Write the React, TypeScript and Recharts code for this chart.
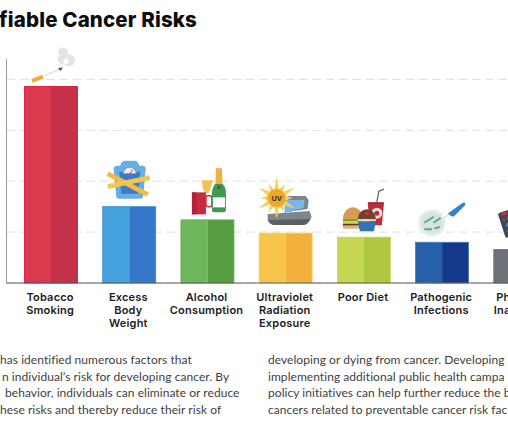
import React from 'react';
import { BarChart, Bar, XAxis, YAxis, CartesianGrid } from 'recharts';

const categories = [
  'Tobacco Smoking',
  'Excess Body Weight',
  'Alcohol Consumption',
  'Ultraviolet Radiation Exposure',
  'Poor Diet',
  'Pathogenic Infections',
  'Physical Inactivity',
];
const tickLines = [
  ['Tobacco', 'Smoking'],
  ['Excess', 'Body', 'Weight'],
  ['Alcohol', 'Consumption'],
  ['Ultraviolet', 'Radiation', 'Exposure'],
  ['Poor Diet'],
  ['Pathogenic', 'Infections'],
  ['Physical', 'Inactivity'],
];
const risks = [19.3, 7.5, 6.2, 4.9, 4.5, 4.0, 3.3];
const lightColors = ['#db3a4e', '#45a1de', '#6fb75b', '#f7c54b', '#c4d652', '#2660a8', '#6d7278'];
const darkColors = ['#c33249', '#3578c9', '#569c40', '#f2b13d', '#afc742', '#163a8b', '#5a5e63'];
const edgeColors = ['#e3062f', '#3a8fd8', '#66ae52', '#f9d26a', '#c4d652', '#4a78b5', '#6d7278'];
const gridTicks = [0, 5, 10, 15, 20];

const titleText = 'fiable Cancer Risks';
const leftColumn = [
  'has identified numerous factors that',
  'n individual\u2019s risk for developing cancer. By',
  'behavior, individuals can eliminate or reduce',
  'hese risks and thereby reduce their risk of',
];
const leftOffsets = [0, 2, 5, 0];
const rightColumn = [
  'developing or dying from cancer. Developing',
  'implementing additional public health campa',
  'policy initiatives can help further reduce the b',
  'cancers related to preventable cancer risk fac',
];

const chartData = categories.map((name, i) => ({ name, risk: risks[i] }));

// little pictures sitting on the bars, drawn from the bar's top centre
const Smoke = () => (
  <g>
    <rect x={-19.5} y={-10} width={12} height={4} fill="#f5a93a" transform="rotate(-21 -13 -8)" />
    <line x1={-6} y1={-11} x2={8} y2={-17} stroke="#e2e3e5" strokeWidth={1.5} />
    <path d="M7 -18.5 L12 -19 L9.5 -15.5 Z" fill="#4a4d52" />
    <g fill="#e3e4e6">
      <circle cx={12} cy={-34} r={5} />
      <circle cx={11} cy={-27} r={4.5} />
      <circle cx={18} cy={-26} r={6} />
      <circle cx={13} cy={-31} r={4} />
    </g>
    <circle cx={15} cy={-25} r={2.5} fill="#fff" />
  </g>
);

const Scale = () => (
  <g>
    <path d="M-15.5 -38 Q-15.5 -41 -12 -41 L-9 -41 Q-8 -46 -4 -46 L5 -46 Q9 -46 10 -41 L13 -41 Q16.5 -41 16.5 -38 L14 -11 Q14 -8 11 -8 L-10 -8 Q-13 -8 -13 -11 Z" fill="#69aee3" />
    <path d="M-10 -35 L11 -35 L9 -13 L-8 -13 Z" fill="#3b7cc9" />
    <path d="M-6 -33 A6.5 6.5 0 0 1 7 -33 Z" fill="#e9edf1" stroke="#7c8894" strokeWidth={0.8} />
    <line x1={0.5} y1={-33} x2={3.5} y2={-37} stroke="#d8323c" strokeWidth={1} />
    <line x1={-21.5} y1={-33} x2={18.5} y2={-12} stroke="#f2bb43" strokeWidth={5} />
    <line x1={-21.5} y1={-20} x2={20.5} y2={-29} stroke="#f6c650" strokeWidth={5} />
  </g>
);

const Drinks = () => (
  <g>
    <path d="M-5.5 -39.5 L5.5 -39.5 L3 -31 L1 -26.5 L-2 -26.5 L-4.5 -31 Z" fill="#eec458" />
    <rect x={-1.5} y={-24} width={6} height={11} rx={2} fill="#fff" stroke="#d8273f" strokeWidth={1.5} />
    <rect x={-15.5} y={-27.5} width={14} height={22} fill="#c62a3f" />
    <rect x={-15.5} y={-27.5} width={4.5} height={22} fill="#b32237" />
    <path d="M8.5 -51.5 L14.5 -51.5 L15 -36 L8 -36 Z" fill="#eeb23f" />
    <path d="M4.5 -27 Q5 -33 8 -36 L15 -36 Q18.5 -33 18.5 -27 L18.5 -10 Q18.5 -7.5 16 -7.5 L7 -7.5 Q4.5 -7.5 4.5 -10 Z" fill="#3f9a4d" />
    <rect x={5.5} y={-22.5} width={12} height={10} fill="#fff" />
    <circle cx={11.5} cy={-32.5} r={1.7} fill="#54585c" />
  </g>
);

const Tanning = () => {
  const rays = [0, 30, 60, 90, 120, 150, 180, 210, 240, 270, 300, 330];
  return (
    <g>
      <path d="M2 -37 L20 -37 L23 -33 L22 -24 L2 -21 Z" fill="#80858a" />
      <path d="M-1 -33 L19 -33 L18 -25 L-1 -20 Z" fill="#78b8e6" />
      <path d="M-18 -19 L24 -22 L26 -16 L23 -11 Q21 -8 17 -8 L-12 -8 Q-17 -9 -18 -13 Z" fill="#80858a" />
      <path d="M-17 -13 L25 -14 L23 -11 Q21 -8 17 -8 L-12 -8 Q-16 -9 -17 -13 Z" fill="#5c6065" />
      {rays.map((deg) => (
        <path
          key={deg}
          d={deg % 60 === 0 ? 'M-2.5 -8 L0 -21 L2.5 -8 Z' : 'M-2.5 -8 L0 -16 L2.5 -8 Z'}
          fill="#f8cf62"
          transform={`translate(-9 -35) rotate(${deg})`}
        />
      ))}
      <circle cx={-9} cy={-35} r={9} fill="#eda72b" />
      <text x={-9} y={-32} textAnchor="middle" fontSize={8} fontWeight={700} fontFamily="Roboto" fill="#3c3a36">
        UV
      </text>
    </g>
  );
};

const Food = () => (
  <g>
    <path d="M13 -35 L15 -46 L20 -48" fill="none" stroke="#5a5e63" strokeWidth={1.2} />
    <path d="M4 -33 L20 -33 L18 -12 L6 -12 Z" fill="#c12a38" />
    <rect x={4} y={-35} width={16} height={2.5} fill="#a82231" />
    <circle cx={13} cy={-24} r={5.5} fill="#ece3e4" />
    <circle cx={13} cy={-24} r={2.5} fill="#c12a38" />
    <path d="M-21 -18 A10 12 0 0 1 -1 -18 Z" fill="#d69a55" />
    <rect x={-21} y={-18} width={20} height={2} fill="#5f9e3c" />
    <rect x={-21} y={-16} width={20} height={2.5} fill="#f0c53d" />
    <rect x={-21} y={-13.5} width={20} height={2} fill="#5b3a2a" />
    <rect x={-21} y={-11.5} width={20} height={3} rx={1} fill="#dcb47c" />
    <path d="M-6 -18 A9 10 0 0 1 12 -18 Z" fill="#6b4330" />
    <circle cx={3} cy={-24} r={2} fill="#c8303f" />
    <rect x={-6} y={-18} width={18} height={2} fill="#f4dc9b" />
    <path d="M-6 -16 L12 -16 L10 -6 L-4 -6 Z" fill="#2f73bd" />
  </g>
);

const Petri = () => (
  <g>
    <line x1={2} y1={-24} x2={8} y2={-29} stroke="#d8dade" strokeWidth={1.5} />
    <path d="M6 -29 L20 -39 Q24 -41 23 -37 L12 -26 Q9 -25 6 -29 Z" fill="#2f84cf" />
    <circle cx={-10} cy={-19.5} r={13.5} fill="#e6eaee" />
    <circle cx={-10} cy={-19.5} r={10.5} fill="#d2e4ea" />
    <g stroke="#67ab57" strokeWidth={2} strokeLinecap="round">
      <line x1={-17} y1={-20} x2={-9} y2={-25} />
      <line x1={-8} y1={-20} x2={-2} y2={-24} />
      <line x1={-17} y1={-13} x2={-11} y2={-13} />
      <line x1={-7} y1={-14} x2={-3} y2={-15} />
    </g>
  </g>
);

const Remote = () => (
  <g transform="translate(-22.6 -36) rotate(-18)">
    <rect x={2} y={24} width={30} height={5} fill="#d7dadd" />
    <rect x={0} y={0} width={30} height={26} rx={2} fill="#44484d" />
    <rect x={3} y={1} width={6} height={2.5} fill="#d8323c" />
    <circle cx={6} cy={14} r={2} fill="#2f84cf" />
    <g fill="#6d7278">
      <circle cx={4} cy={8} r={1} />
      <circle cx={8} cy={8} r={1} />
      <circle cx={4} cy={20} r={1} />
      <circle cx={8} cy={20} r={1} />
    </g>
  </g>
);

const icons = [Smoke, Scale, Drinks, Tanning, Food, Petri, Remote];

// one bar in two halves, with its picture on top
const TwoToneBar = (props: any) => {
  const { x, y, width, height, index } = props;
  const Icon = icons[index];
  return (
    <g>
      <rect x={x} y={y} width={width / 2} height={height} fill={lightColors[index]} />
      <rect x={x + width / 2} y={y} width={width / 2} height={height} fill={darkColors[index]} />
      <rect x={x} y={y} width={width} height={height} fill="none" stroke={edgeColors[index]} strokeWidth={0.8} />
      <g transform={`translate(${x + width / 2} ${y})`}>
        <Icon />
      </g>
    </g>
  );
};

const CategoryTick = (props: any) => {
  const { x, payload, index } = props;
  return (
    <text
      x={x - 0.5}
      textAnchor="middle"
      fontFamily="Inter, sans-serif"
      fontSize={11}
      fontWeight={600}
      letterSpacing={0.2}
      fill="#1c1c1c"
    >
      {(tickLines[index] || [payload.value]).map((line: string, i: number) => (
        <tspan key={line} x={x - 0.5} y={301 + i * 13}>
          {line}
        </tspan>
      ))}
    </text>
  );
};

const NoTick = () => <g />;

const App = () => (
  <div style={{ position: 'absolute', left: 0, top: 0, width: 508, height: 424, overflow: 'hidden', background: '#fff' }}>
    <div
      style={{
        position: 'absolute',
        left: -1,
        top: 6,
        fontFamily: 'Inter, sans-serif',
        fontWeight: 800,
        fontSize: 20.5,
        letterSpacing: 0.15,
        lineHeight: '28px',
        whiteSpace: 'nowrap',
        color: '#0c0c0c',
      }}
    >
      {titleText}
    </div>
    <BarChart
      width={560}
      height={424}
      data={chartData}
      margin={{ top: 59, right: 0, bottom: 0, left: 5.5 }}
      barSize={53}
    >
      <CartesianGrid
        vertical={false}
        horizontalValues={gridTicks}
        stroke="#dedede"
        strokeDasharray="8.5 4.8"
        strokeWidth={1}
      />
      <YAxis
        width={1}
        domain={[0, 22]}
        ticks={gridTicks}
        tick={<NoTick />}
        tickLine={false}
        axisLine={{ stroke: '#9a9a9a', strokeWidth: 1 }}
      />
      <XAxis
        dataKey="name"
        height={141}
        interval={0}
        padding={{ left: 5, right: 1 }}
        tick={<CategoryTick />}
        tickLine={false}
        axisLine={{ stroke: '#5a5a5a', strokeWidth: 1 }}
      />
      <Bar dataKey="risk" shape={<TwoToneBar />} isAnimationActive={false} />
    </BarChart>
    {leftColumn.map((line, i) => (
      <div key={line} style={{ ...bodyLine, left: leftOffsets[i], top: 352 + i * 16.5 }}>
        {line}
      </div>
    ))}
    {rightColumn.map((line, i) => (
      <div key={line} style={{ ...bodyLine, left: 268, top: 352 + i * 16.5 }}>
        {line}
      </div>
    ))}
  </div>
);

const bodyLine: React.CSSProperties = {
  position: 'absolute',
  fontFamily: 'Lato, sans-serif',
  fontSize: 12,
  letterSpacing: 0.05,
  lineHeight: '16px',
  whiteSpace: 'nowrap',
  color: '#404040',
};

export default App;
